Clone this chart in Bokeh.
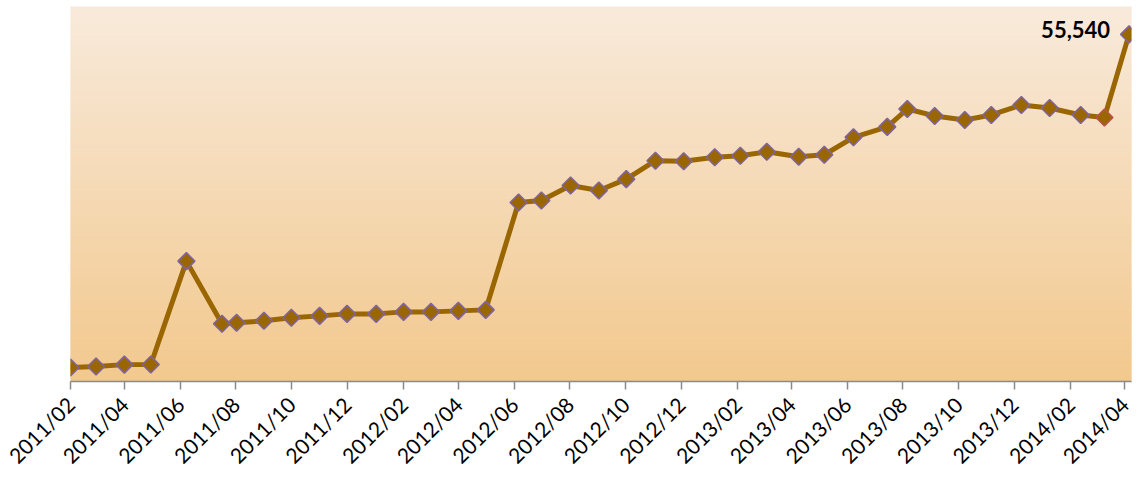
import numpy as np
import pandas as pd
from math import pi
from bokeh.plotting import figure
from bokeh.models import FixedTicker, Range1d, ColumnDataSource
from bokeh.core.properties import value
from bokeh.embed import file_html
from bokeh.resources import INLINE

# ---------------- data ----------------
dates = [
    "2011-02-01", "2011-03-01", "2011-04-01", "2011-04-30", "2011-06-08",
    "2011-07-17", "2011-08-02", "2011-09-01", "2011-10-01", "2011-11-01",
    "2011-12-01", "2012-01-02", "2012-02-01", "2012-03-02", "2012-04-01",
    "2012-05-01", "2012-06-06", "2012-07-01", "2012-08-02", "2012-09-02",
    "2012-10-02", "2012-11-03", "2012-12-04", "2013-01-07", "2013-02-04",
    "2013-03-05", "2013-04-09", "2013-05-07", "2013-06-08", "2013-07-15",
    "2013-08-06", "2013-09-05", "2013-10-08", "2013-11-06", "2013-12-09",
    "2014-01-09", "2014-02-12", "2014-03-10", "2014-04-06",
]
counts = [
    2230, 2390, 2700, 2720, 19260,
    9230, 9390, 9710, 10190, 10500,
    10820, 10820, 11140, 11140, 11300,
    11460, 28650, 28960, 31350, 30560,
    32380, 35330, 35250, 35890, 36130,
    36760, 35970, 36280, 39070, 40740,
    43600, 42490, 41850, 42650, 44240,
    43760, 42650, 42250, 55540,
]
tick_labels = [
    "2011/02", "2011/04", "2011/06", "2011/08", "2011/10", "2011/12",
    "2012/02", "2012/04", "2012/06", "2012/08", "2012/10", "2012/12",
    "2013/02", "2013/04", "2013/06", "2013/08", "2013/10", "2013/12",
    "2014/02", "2014/04",
]
last_label = "55,540"

# ---------------- helpers ----------------
EPOCH = pd.Timestamp("1970-01-01")
def to_ms(ts):
    return (pd.Timestamp(ts) - EPOCH) / pd.Timedelta(milliseconds=1)

x_ms = [to_ms(d) for d in dates]
tick_ms = [to_ms(pd.Timestamp(t.replace("/", "-") + "-01")) for t in tick_labels]

x_start = tick_ms[0]
x_end = to_ms(pd.Timestamp("2014-04-08 16:00"))
y_end = 60000

p = figure(
    width=1135, height=479,
    x_axis_type="datetime",
    x_range=Range1d(x_start, x_end),
    y_range=Range1d(0, y_end),
    y_axis_location=None,
    output_backend="svg",
    toolbar_location=None,
    min_border_left=70, min_border_right=4,
    min_border_top=6, min_border_bottom=96,
)
p.grid.visible = False
p.outline_line_color = None
p.background_fill_color = "white"
p.border_fill_color = "white"

# gradient background (top light cream -> bottom light orange)
n = 90
edges = np.linspace(0, y_end, n + 1)
top_c = np.array([248, 234, 219])
bot_c = np.array([242, 200, 141])
cols = []
for i in range(n):
    t = (i + 0.5) / n
    c = bot_c + (top_c - bot_c) * t
    cols.append("#%02x%02x%02x" % tuple(int(round(v)) for v in c))
p.quad(left=x_start, right=x_end, bottom=edges[:-1], top=edges[1:],
       fill_color=cols, line_color=cols, line_width=1)

# series
outline = ["#8064A2"] * len(counts)
outline[-2] = "#C0504D"
src = ColumnDataSource(dict(x=x_ms, y=counts, oc=outline))
p.line("x", "y", source=src, line_color="#996600", line_width=5)
p.scatter("x", "y", source=src, marker="square", angle=pi / 4, size=12,
          fill_color="#996600", line_color="oc", line_width=1.5)

# data label on last point
p.text(x=[x_ms[-1]], y=[counts[-1]], text=[last_label],
       text_align="right", text_baseline="middle", x_offset=-19, y_offset=-5,
       text_font=value("Lato"), text_font_style="bold",
       text_font_size="22px", text_color="black")

# x axis
ax = p.xaxis[0]
ax.ticker = FixedTicker(ticks=tick_ms, minor_ticks=[])
ax.major_label_overrides = {t: l for t, l in zip(tick_ms, tick_labels)}
ax.major_label_orientation = pi / 4
ax.axis_line_color = "#8a8a8a"
ax.axis_line_width = 1.5
ax.major_tick_line_color = "#8a8a8a"
ax.major_tick_line_width = 1.5
ax.major_tick_out = 8
ax.major_tick_in = 0
ax.minor_tick_line_color = None
ax.major_label_text_font = "Lato"
ax.major_label_text_font_size = "21px"
ax.major_label_text_color = "black"
ax.major_label_standoff = 11

open("out.html", "w").write(file_html(p, INLINE))
